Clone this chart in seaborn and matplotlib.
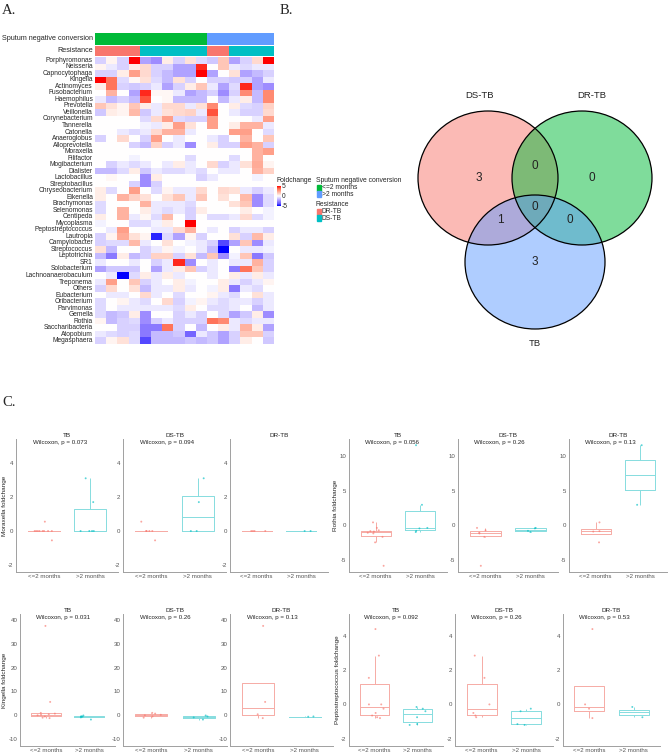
#!/usr/bin/env python3
# -*- coding: utf-8 -*-
"""
Oral microbiota foldchange figure:
A. genus foldchange heatmap, B. Venn of differential genera, C. boxplots
"""

import numpy as np
import pandas as pd
import matplotlib
matplotlib.use('Agg')
import matplotlib.pyplot as plt
import seaborn as sns
from matplotlib.colors import LinearSegmentedColormap, ListedColormap
from matplotlib.patches import Ellipse, Rectangle

W, H = 669, 755

# ---------------- panel A data ----------------
genera = [
    'Porphyromonas', 'Neisseria', 'Capnocytophaga', 'Kingella', 'Actinomyces',
    'Fusobacterium', 'Haemophilus', 'Prevotella', 'Veillonella', 'Corynebacterium',
    'Tannerella', 'Catonella', 'Anaeroglobus', 'Alloprevotella', 'Moraxella',
    'Filifactor', 'Mogibacterium', 'Dialister', 'Lactobacillus', 'Streptobacillus',
    'Chryseobacterium', 'Eikenella', 'Brachymonas', 'Selenomonas', 'Centipeda',
    'Mycoplasma', 'Peptostreptococcus', 'Lautropia', 'Campylobacter', 'Streptococcus',
    'Leptotrichia', 'SR1', 'Solobacterium', 'Lachnoanaerobaculum', 'Treponema',
    'Others', 'Eubacterium', 'Oribacterium', 'Parvimonas', 'Gemella',
    'Rothia', 'Saccharibacteria', 'Atopobium', 'Megasphaera',
]

sputum_groups = ['<=2 months'] * 10 + ['>2 months'] * 6
resistance_groups = ['DR-TB'] * 4 + ['DS-TB'] * 6 + ['DR-TB'] * 2 + ['DS-TB'] * 4

foldchange_rows = [
    [-1, 0.3, -1, 5, -2, -2.5, 0.5, -1, 0.8, -0.8, -1.2, 1.5, -2, -1, 1, 5],
    [0.3, -0.5, -1, 0.5, 1, -1, -1, -2, -2, 4.5, 0, 1.5, -0.5, -0.8, -0.5, -0.5],
    [-1, -1, 0.5, 2.5, 1, -1, -1.5, -2, -2, 5, -2, 0, 0.8, -2, -1.5, -1],
    [5, 3.5, -0.8, 0.2, 0.8, -0.8, -1.5, 0.8, -1, 0, -1, -1, -1.2, -1, -2, -0.5],
    [0.5, 3.5, -1, -1.2, -1, -0.5, -2, -1, 0.5, 1.5, -0.5, -2, -0.8, 4.5, -2, -2.5],
    [0, 2, 0, -2, 4.5, 0.2, 0.2, -0.5, -2, -1.5, -1, -2.5, -1, 3, -1.5, 3],
    [-0.5, -1.5, -1, -1.5, 4, 0, 0.2, -1.5, -1.5, -1.5, 0, -1.5, -0.5, 0.5, -1.5, 3],
    [1.5, 0.8, 0.3, 1.5, 0.5, -0.5, 1, 1, -0.5, 0.8, 3, 0, 0.5, -0.8, -1, 1.2],
    [-1.2, 0.5, 0.3, 1.8, -1.2, -0.5, 0.8, 1, 1.2, -0.5, 4, 0, -0.5, -1, -1, 1],
    [0, 0, 0, 0, -0.8, 1, 2.5, -0.8, -1, -1, 2.5, 0, 0, 0, -0.5, 2.5],
    [0, 0, 0, 0, -0.3, -0.5, 0.5, 2.5, 0.8, 0, 2.5, 0, 0.5, 2, 2, -0.5],
    [0, 0, -0.5, -0.8, -0.5, 1, 2, 2, -0.5, 0, 0, 0, 2.5, 2.5, 0, -0.8],
    [-1, 0, 1, 0, -1, 2.5, 0, -0.5, 0, 0, -0.5, -1, 0, 2, 0, 1.5],
    [0, 0, 0, -1, -1.5, 1.2, -1, -0.5, -2.5, 0, 0.5, -1, -1, 2.5, 2, -1],
    [0, 0, 0, 0, 0, 0, 0, 0, 0, 0, 0, 0, 0, 0, 2, 2.5],
    [0, 0, 0, -0.3, 0, 0, 0, 0, -0.8, 0, 0, 0, -0.8, 0, 2, 0],
    [0, -1, -0.5, -0.8, -0.5, 0, -0.5, 0.5, -0.5, 0, 1, -1, -0.5, 0.8, 2.2, 0.3],
    [-1.5, -1.5, -0.8, 0.5, -1.2, -0.5, -0.8, -0.8, -0.5, -0.8, 0, -0.5, -0.5, 0, 2, 1.2],
    [0, 0.2, 0, 0, -2.5, 0.5, 0, 0, 0, -1, -0.5, 0, 0, 0, -0.3, 0],
    [0, 0, 0, -1, -2.5, -1, 0, 0, 0, 0, 0, 0, 0, 0, 0, 0],
    [0.5, -0.8, 0, 2.5, 0, -0.8, 0.3, -0.5, -0.5, 1, 0, 1, 0.8, -0.5, -1, -0.5],
    [0.5, 0, 2, 1.2, 0.8, 0, 0.8, 1.5, -0.5, 1.5, 0, 0.8, 0, 1.8, -2.5, -0.8],
    [-0.8, 0, 0, 0, 2, -0.5, -0.5, -0.5, -0.8, 0, 0, 0, 0.8, 1.5, -2.5, -0.8],
    [-0.8, 0, 2, 0, 0.5, -0.5, -0.8, -0.5, -1, 0.5, 0, 0, 0, 0.5, 0, -0.3],
    [0.5, 0, 2, -0.5, 0.2, -0.8, 1.8, 0, -1, 0, -0.8, -0.8, -0.5, 1, -0.8, -0.3],
    [-0.3, 0, 0, -0.8, -0.8, -0.3, 0.5, 0, 5, 0, 0, 0, 0, 0, 0, 0],
    [0, -0.5, 2.5, 0, 0, -0.5, -0.5, 1, 2, 0, -0.5, 0, -1, -0.5, -0.5, -1],
    [-1, 0.3, 2.2, 0.8, 0.3, -4.5, -0.8, -2, 0.3, -1, 0, 0, 0.8, -1, 1.8, 0.5],
    [-1, -0.8, -0.8, 1.8, -0.5, 0, 0.8, 0, -0.3, -0.5, -1, -4, -2, 1.5, -2.5, -0.5],
    [0.8, -1.5, 0, 0, -1, -0.5, 0.3, -0.3, 0, -0.5, -1.5, -5, 0, -0.5, -0.5, -0.3],
    [-1.5, -3, 0.5, -1.5, -1, 1.2, 1.2, -1, 0.8, -1.5, 1.5, -2.5, -0.3, 1.5, -3, -1.2],
    [-0.5, 0, 0, -0.5, 0, -1, -0.5, 4.5, -2.5, 0, -0.5, 0, -0.5, -0.5, 2, -1],
    [-2, -1.2, -1.2, -1.2, 0, -2, -0.5, 0.5, 1.5, -1, -0.5, 0, -3, 3.5, 1.5, -1],
    [0, -0.5, -5, -0.8, 0.5, -0.5, 0.5, -0.5, 0, 0, -0.5, 0, 0.5, -0.5, 0.5, -0.5],
    [-0.5, 2.5, 0, 1.5, -1, -0.5, 0, 0.5, -0.3, 0, 0, 0.5, -0.5, -1, -0.5, 0.3],
    [-1, 1, 0, 0.8, -1.5, -0.5, -0.5, 0.5, -0.5, 0, -0.3, 0.5, -3, -0.5, -0.8, 0],
    [0, -0.5, -0.5, 0, 1, -0.5, 0, -0.8, 0, 0, 0.3, -0.5, -0.8, 0, 0.8, -0.5],
    [-0.8, 0, 0.3, -0.5, -0.8, 0, 1, -1, -0.3, 0.3, -0.5, -0.8, -0.5, -0.5, -1, -0.5],
    [-0.8, 0, -0.5, -0.5, -0.5, -0.5, -0.5, -0.8, 0.5, 0, -0.8, -0.8, -0.5, 0, -1.5, -0.5],
    [-0.8, -1.5, -1.2, 0.5, -2.5, 0, 0, -1, -0.5, -1, 0, -0.8, -2, -1.2, 0.5, -2.5],
    [0.3, -1.5, -1, -0.8, -2.5, -1, -0.5, -1, -1, -1, 3.5, 3, -0.5, -0.8, -0.5, -0.5],
    [0, 0, -1, -1, -3, -3, 3.5, -1, 0, -1.5, 0, 0.5, -0.5, 2, 0.5, -2],
    [-0.5, -0.8, -1, -0.8, -3, -1.5, -1.5, -1.2, -3.5, -0.5, -1.2, -2, -1, 1.5, 1.5, -1],
    [-1, 0.3, 0.8, -0.8, -4, -1.5, -1.5, -1.5, -1.2, -1.5, -1.2, -2, -1, 0.5, 0, -1.2],
]

# ---------------- panel B data ----------------
venn_sets = ['DS-TB', 'DR-TB', 'TB']
venn_counts = {
    'DS-TB': 3, 'DR-TB': 0, 'TB': 3,
    'DS-TB&DR-TB': 0, 'DS-TB&TB': 1, 'DR-TB&TB': 0, 'all': 0,
}

# ---------------- panel C data (DS-TB / DR-TB patients per period) ----------------
month_levels = ['<=2 months', '>2 months']
panel_titles = ['TB', 'DS-TB', 'DR-TB']

moraxella_ds_le2 = [0.55, 0, 0, 0, 0, -0.55]
moraxella_ds_gt2 = [0, 0, 1.7, 3.1]
moraxella_dr_le2 = [0, 0, 0, 0]
moraxella_dr_gt2 = [0, 0]
moraxella_p = ['0.073', '0.094', None]

rothia_ds_le2 = [-5.9, -1.7, -1.2, -1.1, -0.75, -0.4]
rothia_ds_gt2 = [-1.0, -0.83, -0.47, -0.4]
rothia_dr_le2 = [0.4, -0.87, -0.93, -2.5]
rothia_dr_gt2 = [2.95, 11.6]
rothia_p = ['0.056', '0.26', '0.13']

kingella_ds_le2 = [-1.0, -0.5, 0, 0.2, 0.7, 1.0]
kingella_ds_gt2 = [-1.8, -0.9, -0.5, -0.1]
kingella_dr_le2 = [-1.2, 0.4, 5.6, 37.5]
kingella_dr_gt2 = [-0.6, -0.5]
kingella_p = ['0.031', '0.26', '0.13']

pepto_ds_le2 = [-0.75, -0.65, -0.5, 0.0, 1.55, 2.85]
pepto_ds_gt2 = [-1.2, -1.15, -0.4, -0.25]
pepto_dr_le2 = [-0.8, -0.25, 0.0, 4.4]
pepto_dr_gt2 = [-0.75, -0.15]
pepto_p = ['0.092', '0.26', '0.53']

# colours
green, blue = '#00BA38', '#619CFF'
red, cyan = '#F8766D', '#00BFC4'
box_line_colors = ['#F6ABA5', '#86DCDE']
fc_cmap = LinearSegmentedColormap.from_list('foldchange', [
    (0.0, '#0000FF'), (0.125, '#6B5CFF'), (0.25, '#9E8CFF'), (0.375, '#CEC6FF'),
    (0.5, '#FFFFFF'), (0.625, '#FFD0C3'), (0.75, '#FFA08A'), (0.875, '#FF6A4E'),
    (1.0, '#FF0000'),
])


def fx(x):
    return x / W


def fy(y):
    return 1 - y / H


def px_axes(fig, x0, y0, x1, y1):
    """axes placed in pixel coordinates (origin top-left)"""
    return fig.add_axes([x0 / W, 1 - y1 / H, (x1 - x0) / W, (y1 - y0) / H])


def draw_heatmap(fig):
    mat = pd.DataFrame(foldchange_rows, index=genera)
    ax = px_axes(fig, 95, 57, 274, 344)
    sns.heatmap(mat, ax=ax, cmap=fc_cmap, vmin=-5, vmax=5, cbar=False,
                xticklabels=False, yticklabels=True)
    ax.set_yticklabels(genera, rotation=0, fontsize=4.8)
    ax.tick_params(axis='y', length=0, pad=1.5)
    ax.set_xlabel('')
    ax.set_ylabel('')

    # column annotations
    annots = [
        (33, 44.5, sputum_groups, month_levels, [green, blue], 'Sputum negative conversion'),
        (46, 55.5, resistance_groups, ['DR-TB', 'DS-TB'], [red, cyan], 'Resistance'),
    ]
    for y0, y1, groups, levels, colors, title in annots:
        a = px_axes(fig, 95, y0, 274, y1)
        codes = [[levels.index(g) for g in groups]]
        sns.heatmap(codes, ax=a, cmap=ListedColormap(colors), vmin=-0.5,
                    vmax=len(levels) - 0.5, cbar=False,
                    xticklabels=False, yticklabels=False)
        fig.text(fx(93), fy((y0 + y1) / 2), title, ha='right', va='center', fontsize=5.2)

    # foldchange colour legend
    fig.text(fx(276.5), fy(180), 'Foldchange', fontsize=4.9, va='center')
    cax = px_axes(fig, 277, 186, 280.5, 206)
    sm = plt.cm.ScalarMappable(cmap=fc_cmap, norm=plt.Normalize(-5, 5))
    cb = fig.colorbar(sm, cax=cax, ticks=[-5, 0, 5])
    cb.outline.set_visible(False)
    cax.tick_params(labelsize=4.8, length=0, pad=1)

    # discrete annotation legends
    legends = [
        (180, 'Sputum negative conversion', month_levels, [green, blue]),
        (204, 'Resistance', ['DR-TB', 'DS-TB'], [red, cyan]),
    ]
    for ytop, title, labels, colors in legends:
        fig.text(fx(316), fy(ytop), title, fontsize=4.9, va='center')
        for i, (lab, col) in enumerate(zip(labels, colors)):
            kb = ytop + 4 + 6.5 * (i + 1)
            fig.patches.append(Rectangle((fx(317), fy(kb)), 3.5 / W, 6 / H,
                                         transform=fig.transFigure, color=col))
            fig.text(fx(321.5), fy(kb - 3), lab, fontsize=4.8, va='center')


def draw_venn(fig):
    ax = px_axes(fig, 330, 0, 669, 380)
    ax.set_xlim(330, 669)
    ax.set_ylim(380, 0)
    ax.axis('off')
    centers = {'DS-TB': (488, 178), 'DR-TB': (582, 178), 'TB': (535, 262)}
    fills = {'DS-TB': red, 'DR-TB': green, 'TB': blue}
    for name in venn_sets:
        ax.add_patch(Ellipse(centers[name], 140, 134, facecolor=fills[name],
                             alpha=0.5, edgecolor='none'))
    for name in venn_sets:
        ax.add_patch(Ellipse(centers[name], 140, 134, facecolor='none',
                             edgecolor='black', lw=0.9))
    set_label_pos = {'DS-TB': (479, 96), 'DR-TB': (592, 96), 'TB': (535, 344)}
    for name, (x, y) in set_label_pos.items():
        ax.text(x, y, name, ha='center', va='center', fontsize=6.8, color='#222222')
    count_pos = {
        'DS-TB': (479, 178), 'DR-TB': (592, 178), 'TB': (535, 262),
        'DS-TB&DR-TB': (535, 166), 'DS-TB&TB': (500, 220),
        'DR-TB&TB': (570, 220), 'all': (535, 207),
    }
    for region, (x, y) in count_pos.items():
        ax.text(x, y, str(venn_counts[region]), ha='center', va='center',
                fontsize=8.5, color='#222222')


def box_frame(le2, gt2):
    return pd.DataFrame({
        'month': [month_levels[0]] * len(le2) + [month_levels[1]] * len(gt2),
        'fc': list(le2) + list(gt2),
    })


def draw_box_group(fig, genus, xs, y0, y1, ylim, yticks, ds_le2, ds_gt2, dr_le2, dr_gt2, pvals):
    frames = [
        box_frame(ds_le2 + dr_le2, ds_gt2 + dr_gt2),
        box_frame(ds_le2, ds_gt2),
        box_frame(dr_le2, dr_gt2),
    ]
    for i, ((x0, x1), df, title, p) in enumerate(zip(xs, frames, panel_titles, pvals)):
        ax = px_axes(fig, x0, y0, x1, y1)
        sns.boxplot(data=df, x='month', y='fc', hue='month', order=month_levels,
                    hue_order=month_levels, palette=box_line_colors, fill=False,
                    width=0.68, showfliers=False, showcaps=False, linewidth=0.7,
                    legend=False, ax=ax)
        sns.stripplot(data=df, x='month', y='fc', hue='month', order=month_levels,
                      hue_order=month_levels, palette=[red, cyan], size=1.4,
                      jitter=0.22, alpha=0.65, legend=False, ax=ax)
        ax.set_xlim(-0.6, 1.6)
        ax.set_ylim(*ylim)
        ax.set_yticks(yticks)
        ax.set_xlabel('')
        ax.set_ylabel(f'{genus} foldchange' if i == 0 else '', fontsize=4.6, labelpad=1)
        ax.set_title(title, fontsize=4.6, pad=1.5, color='#222222')
        for side in ['top', 'right']:
            ax.spines[side].set_visible(False)
        for side in ['left', 'bottom']:
            ax.spines[side].set_color('#A0A0A0')
            ax.spines[side].set_linewidth(0.7)
        ax.tick_params(labelsize=4.4, length=1, width=0.4, pad=0.8,
                       colors='#A0A0A0', labelcolor='#555555')
        if p is not None:
            ax.text(-0.24, 0.972, f'Wilcoxon, p = {p}', transform=ax.get_xaxis_transform(),
                    ha='left', va='center', fontsize=4.4, color='#222222')


def main():
    sns.set_theme(style='white')
    plt.rcParams['font.family'] = ['Liberation Sans', 'DejaVu Sans']
    plt.rcParams['axes.unicode_minus'] = False
    np.random.seed(3)

    fig = plt.figure(figsize=(W / 100, H / 100), dpi=100)

    draw_heatmap(fig)
    draw_venn(fig)

    top_row = (439, 572)
    bottom_row = (614, 746)
    draw_box_group(fig, 'Moraxella', [(16, 118), (123, 226), (230, 328)], *top_row,
                   (-2.41, 5.41), [-2, 0, 2, 4],
                   moraxella_ds_le2, moraxella_ds_gt2, moraxella_dr_le2, moraxella_dr_gt2,
                   moraxella_p)
    draw_box_group(fig, 'Rothia', [(349, 447), (458, 558), (569, 667)], *top_row,
                   (-6.8, 12.5), [-5, 0, 5, 10],
                   rothia_ds_le2, rothia_ds_gt2, rothia_dr_le2, rothia_dr_gt2, rothia_p)
    draw_box_group(fig, 'Kingella', [(20, 115), (123, 227), (230, 333)], *bottom_row,
                   (-12.9, 42.5), [-10, 0, 10, 20, 30, 40],
                   kingella_ds_le2, kingella_ds_gt2, kingella_dr_le2, kingella_dr_gt2,
                   kingella_p)
    draw_box_group(fig, 'Peptostreptococcus', [(349, 443), (455, 553), (563, 660)], *bottom_row,
                   (-2.43, 5.28), [-2, 0, 2, 4],
                   pepto_ds_le2, pepto_ds_gt2, pepto_dr_le2, pepto_dr_gt2, pepto_p)

    # panel letters
    for x, y, lab in [(2, 10, 'A.'), (280, 10, 'B.'), (2, 402, 'C.')]:
        fig.text(fx(x), fy(y), lab, fontsize=10.5, va='center', ha='left',
                 family=['Liberation Serif', 'DejaVu Serif'])

    fig.savefig('out.png', dpi=100)
    plt.close(fig)


if __name__ == '__main__':
    main()
